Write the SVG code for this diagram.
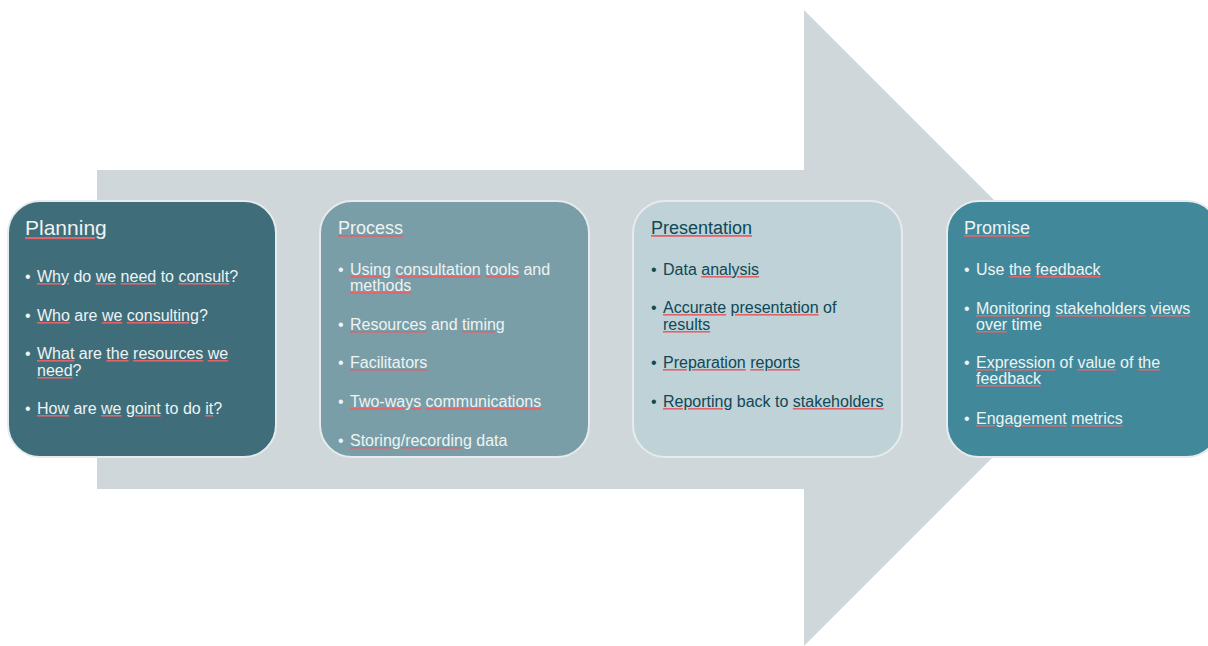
<svg xmlns="http://www.w3.org/2000/svg" width="1208" height="646" viewBox="0 0 1208 646">
  <style>
    .box { stroke: #E7EBED; stroke-width: 2; }
    text { font-family: "Liberation Sans", Arial, sans-serif; font-size: 16px; }
    .title { font-size: 18px; }
    .light { fill: #EEF3F4; }
    .dark { fill: #0F4856; }
    /* spell-check style underline: decoration takes the outer tspan's fill */
    .u { fill: #E0646A; text-decoration: underline; }
    .light .u > tspan { fill: #EEF3F4; }
    .dark .u > tspan { fill: #0F4856; }
  </style>

  <!-- big background arrow -->
  <path id="arrow" d="M97,170 H804 V10 L1122,328 L804,646 V489 H97 Z" fill="#CFD7DB"/>

  <g id="connectors"/>

  <!-- Planning -->
  <g id="node-planning">
    <rect class="box" x="8" y="201" width="268" height="256" rx="32" fill="#3F6E7A"/>
    <text class="light" x="25" y="235" style="font-size:21px"><tspan class="u"><tspan>Planning</tspan></tspan></text>
    <text class="light" x="25" y="282">•</text>
    <text class="light" x="37" y="282"><tspan class="u"><tspan>Why</tspan></tspan> do <tspan class="u"><tspan>we</tspan></tspan> <tspan class="u"><tspan>need</tspan></tspan> to <tspan class="u"><tspan>consult</tspan></tspan>?</text>
    <text class="light" x="25" y="321">•</text>
    <text class="light" x="37" y="321"><tspan class="u"><tspan>Who</tspan></tspan> are <tspan class="u"><tspan>we</tspan></tspan> <tspan class="u"><tspan>consulting</tspan></tspan>?</text>
    <text class="light" x="25" y="359">•</text>
    <text class="light" x="37" y="359"><tspan class="u"><tspan>What</tspan></tspan> are <tspan class="u"><tspan>the</tspan></tspan> <tspan class="u"><tspan>resources</tspan></tspan> <tspan class="u"><tspan>we</tspan></tspan></text>
    <text class="light" x="37" y="376"><tspan class="u"><tspan>need</tspan></tspan>?</text>
    <text class="light" x="25" y="414">•</text>
    <text class="light" x="37" y="414"><tspan class="u"><tspan>How</tspan></tspan> are <tspan class="u"><tspan>we</tspan></tspan> <tspan class="u"><tspan>goint</tspan></tspan> to do <tspan class="u"><tspan>it</tspan></tspan>?</text>
  </g>

  <!-- Process -->
  <g id="node-process">
    <rect class="box" x="320" y="201" width="269" height="256" rx="32" fill="#7A9EA7"/>
    <text class="light title" x="338" y="234"><tspan class="u"><tspan>Process</tspan></tspan></text>
    <text class="light" x="338" y="275">•</text>
    <text class="light" x="350" y="275"><tspan class="u"><tspan>Using</tspan></tspan> <tspan class="u"><tspan>consultation</tspan></tspan> <tspan class="u"><tspan>tools</tspan></tspan> and</text>
    <text class="light" x="350" y="291"><tspan class="u"><tspan>methods</tspan></tspan></text>
    <text class="light" x="338" y="330">•</text>
    <text class="light" x="350" y="330"><tspan class="u"><tspan>Resources</tspan></tspan> and <tspan class="u"><tspan>timing</tspan></tspan></text>
    <text class="light" x="338" y="368">•</text>
    <text class="light" x="350" y="368"><tspan class="u"><tspan>Facilitators</tspan></tspan></text>
    <text class="light" x="338" y="407">•</text>
    <text class="light" x="350" y="407"><tspan class="u"><tspan>Two-ways</tspan></tspan> <tspan class="u"><tspan>communications</tspan></tspan></text>
    <text class="light" x="338" y="446">•</text>
    <text class="light" x="350" y="446"><tspan class="u"><tspan>Storing/recording</tspan></tspan> data</text>
  </g>

  <!-- Presentation -->
  <g id="node-presentation">
    <rect class="box" x="633" y="201" width="269" height="256" rx="32" fill="#BED2D7"/>
    <text class="dark title" x="651" y="234"><tspan class="u"><tspan>Presentation</tspan></tspan></text>
    <text class="dark" x="651" y="275">•</text>
    <text class="dark" x="663" y="275">Data <tspan class="u"><tspan>analysis</tspan></tspan></text>
    <text class="dark" x="651" y="313">•</text>
    <text class="dark" x="663" y="313"><tspan class="u"><tspan>Accurate</tspan></tspan> <tspan class="u"><tspan>presentation</tspan></tspan> of</text>
    <text class="dark" x="663" y="330"><tspan class="u"><tspan>results</tspan></tspan></text>
    <text class="dark" x="651" y="368">•</text>
    <text class="dark" x="663" y="368"><tspan class="u"><tspan>Preparation</tspan></tspan> <tspan class="u"><tspan>reports</tspan></tspan></text>
    <text class="dark" x="651" y="407">•</text>
    <text class="dark" x="663" y="407"><tspan class="u"><tspan>Reporting</tspan></tspan> back to <tspan class="u"><tspan>stakeholders</tspan></tspan></text>
  </g>

  <!-- Promise -->
  <g id="node-promise">
    <rect class="box" x="947" y="201" width="272" height="256" rx="32" fill="#41899A"/>
    <text class="light title" x="964" y="234"><tspan class="u"><tspan>Promise</tspan></tspan></text>
    <text class="light" x="964" y="275">•</text>
    <text class="light" x="976" y="275">Use <tspan class="u"><tspan>the</tspan></tspan> <tspan class="u"><tspan>feedback</tspan></tspan></text>
    <text class="light" x="964" y="314">•</text>
    <text class="light" x="976" y="314"><tspan class="u"><tspan>Monitoring</tspan></tspan> <tspan class="u"><tspan>stakeholders</tspan></tspan> <tspan class="u"><tspan>views</tspan></tspan></text>
    <text class="light" x="976" y="330"><tspan class="u"><tspan>over</tspan></tspan> time</text>
    <text class="light" x="964" y="368">•</text>
    <text class="light" x="976" y="368"><tspan class="u"><tspan>Expression</tspan></tspan> of <tspan class="u"><tspan>value</tspan></tspan> of <tspan class="u"><tspan>the</tspan></tspan></text>
    <text class="light" x="976" y="384"><tspan class="u"><tspan>feedback</tspan></tspan></text>
    <text class="light" x="964" y="424">•</text>
    <text class="light" x="976" y="424"><tspan class="u"><tspan>Engagement</tspan></tspan> <tspan class="u"><tspan>metrics</tspan></tspan></text>
  </g>
</svg>
